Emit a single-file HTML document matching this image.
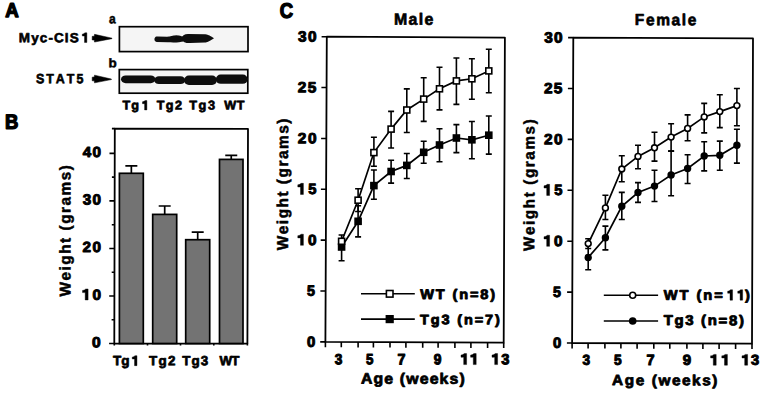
<!DOCTYPE html>
<html><head><meta charset="utf-8"><title>Figure</title>
<style>
html,body{margin:0;padding:0;background:#fff;}
body{width:762px;height:393px;overflow:hidden;}
svg{display:block;}
svg text{font-family:"Liberation Sans",sans-serif;font-weight:bold;font-kerning:none;}
</style></head>
<body>
<svg width="762" height="393" viewBox="0 0 762 393">
<rect width="762" height="393" fill="#fff"/>
<text transform="matrix(0.18632 0.0002 0 0.20058 5.336 17.000)" font-size="100.0" fill="#000" stroke="#000" stroke-width="1.4" vector-effect="non-scaling-stroke" stroke-linejoin="round">A</text>
<text transform="matrix(0.18529 0.0002 0 0.20349 5.111 128.650)" font-size="100.0" fill="#000" stroke="#000" stroke-width="1.3" vector-effect="non-scaling-stroke" stroke-linejoin="round">B</text>
<text transform="matrix(0.18507 0.0002 0 0.21045 279.791 17.844)" font-size="100.0" fill="#000" stroke="#000" stroke-width="1.3" vector-effect="non-scaling-stroke" stroke-linejoin="round">C</text>
<text transform="matrix(0.13513 0.0002 0 0.13249 18.796 42.151)" dx="0 8.09 8.09 8.09 8.09 8.09 8.09 8.09" font-size="100.0" fill="#000" stroke="#000" stroke-width="0.6" vector-effect="non-scaling-stroke" stroke-linejoin="round">Myc-CIS </text><path d="M86.86 32.84 L86.86 42.45 L84.50 42.45 L84.50 36.01 L82.32 36.01 L82.32 34.09 C83.68 34.09 84.27 33.41 84.95 32.84 Z" fill="#000" stroke="#000" stroke-width="0.4" stroke-linejoin="round"/>
<text transform="matrix(0.12474 0.0002 0 0.13559 36.041 83.168)" dx="0 15.63 15.63 15.63 15.63" font-size="100.0" fill="#000" stroke="#000" stroke-width="0.6" vector-effect="non-scaling-stroke" stroke-linejoin="round">STAT5</text>
<text transform="matrix(0.12003 0.0002 0 0.13325 108.998 23.320)" font-size="100.0" fill="#000" stroke="#000" stroke-width="0.5" vector-effect="non-scaling-stroke" stroke-linejoin="round">a</text>
<text transform="matrix(0.13495 0.0002 0 0.12391 108.560 67.129)" font-size="100.0" fill="#000" stroke="#000" stroke-width="0.5" vector-effect="non-scaling-stroke" stroke-linejoin="round">b</text>
<path d="M92.20 36.35 L94.30 36.25 L94.50 34.35 L112.00 38.15 L112.00 38.65 L94.50 42.05 L94.30 40.05 L92.20 39.95 Z" fill="#000" stroke="#000" stroke-width="0.5" stroke-linejoin="round"/>
<path d="M92.20 77.15 L94.30 77.05 L94.50 75.15 L111.40 79.05 L111.40 79.55 L94.50 82.85 L94.30 80.85 L92.20 80.75 Z" fill="#000" stroke="#000" stroke-width="0.5" stroke-linejoin="round"/>
<defs><filter id="bl" x="-5%" y="-30%" width="110%" height="160%"><feGaussianBlur stdDeviation="0.45"/></filter></defs>
<rect x="119.4" y="26.7" width="128.6" height="24.9" fill="#f5f5f5" stroke="#000" stroke-width="1.7"/>
<rect x="119.3" y="69.6" width="128.5" height="23.6" fill="#f5f5f5" stroke="#000" stroke-width="1.7"/>
<g filter="url(#bl)" fill="#0d0d0d"><path d="M156.6 36.6 C153.8 36.8 153.8 41.8 156.6 42.0 L168 42.3 C172 42.5 176 42.5 179 42.2 L183 41.4 L183 36.8 C181 36.0 179.5 35.4 176.5 35.2 C173 35.3 170 36.4 167 36.7 Z"/><path d="M181.3 38.4 C181.8 35.6 184.5 34.0 188 33.9 L205.5 34.3 C208 34.5 210.8 36.3 214.0 38.2 C210.8 40.3 208 42.1 205.5 42.6 L190 43.1 C185 43.1 181.8 41.4 181.3 38.4 Z"/></g>
<g filter="url(#bl)" fill="#0d0d0d"><rect x="121.0" y="75.4" width="34.4" height="7.8" rx="4.6" ry="3.9"/><rect x="154.2" y="76.3" width="31.0" height="7.8" rx="4.6" ry="3.9"/><rect x="184.0" y="75.5" width="33.0" height="9.4" rx="4.9" ry="4.7"/><rect x="215.8" y="74.6" width="31.9" height="9.1" rx="4.9" ry="4.5"/></g>
<text transform="matrix(0.12668 0.0002 0 0.12668 122.608 109.565)" dx="0 8.18 8.18" font-size="100.0" fill="#000" stroke="#000" stroke-width="0.7" vector-effect="non-scaling-stroke" stroke-linejoin="round">Tg </text><path d="M146.88 100.60 L146.88 109.92 L144.59 109.92 L144.59 103.67 L142.47 103.67 L142.47 101.81 C143.80 101.81 144.37 101.16 145.03 100.60 Z" fill="#000" stroke="#000" stroke-width="0.4" stroke-linejoin="round"/>
<text transform="matrix(0.12635 0.0002 0 0.12635 156.808 109.572)" dx="0 10.62 10.62" font-size="100.0" fill="#000" stroke="#000" stroke-width="0.7" vector-effect="non-scaling-stroke" stroke-linejoin="round">Tg2</text>
<text transform="matrix(0.12745 0.0002 0 0.12745 189.307 109.549)" dx="0 11.95 11.95" font-size="100.0" fill="#000" stroke="#000" stroke-width="0.7" vector-effect="non-scaling-stroke" stroke-linejoin="round">Tg3</text>
<text transform="matrix(0.12646 0.0002 0 0.12646 224.338 109.550)" dx="0 3.86" font-size="100.0" fill="#000" stroke="#000" stroke-width="0.7" vector-effect="non-scaling-stroke" stroke-linejoin="round">WT</text>
<path d="M114.80 128.60 L248.00 128.90 L247.40 343.60 L114.30 343.50 Z" fill="none" stroke="#000" stroke-width="1.8" stroke-linejoin="round"/>
<path d="M114.80 128.60 H111.9" stroke="#000" stroke-width="1.8"/>
<path d="M109.1 343.50 H114.30 M111.6 319.74 H114.36 M109.2 295.98 H114.41 M111.7 272.21 H114.47 M109.3 248.45 H114.52 M111.8 224.69 H114.58 M109.4 200.92 H114.63 M111.9 177.16 H114.69 M109.5 153.40 H114.74 M114.3 343.5 V345.6 M147.5 343.5 V345.6 M180.5 343.5 V345.6 M213.8 343.5 V345.6 M247.4 343.5 V345.6" stroke="#000" stroke-width="1.6" fill="none"/>
<text transform="matrix(0.15560 0.0002 0 0.14689 91.885 347.157)" font-size="100.0" fill="#000" stroke="#000" stroke-width="1.0" vector-effect="non-scaling-stroke" stroke-linejoin="round">0</text>
<path d="M88.10 288.98 L88.10 299.98 L85.19 299.98 L85.19 292.61 L82.50 292.61 L82.50 290.41 C84.18 290.41 84.91 289.64 85.75 288.98 Z" fill="#000" stroke="#000" stroke-width="0.4" stroke-linejoin="round"/><text transform="matrix(0.15349 0.0002 0 0.14689 92.393 299.632)" font-size="100.0" fill="#000" stroke="#000" stroke-width="1.0" vector-effect="non-scaling-stroke" stroke-linejoin="round">0</text>
<text transform="matrix(0.15277 0.0002 0 0.14689 82.470 252.107)" dx="0 9.58" font-size="100.0" fill="#000" stroke="#000" stroke-width="1.0" vector-effect="non-scaling-stroke" stroke-linejoin="round">20</text>
<text transform="matrix(0.15245 0.0002 0 0.14659 82.650 204.560)" dx="0 8.64" font-size="100.0" fill="#000" stroke="#000" stroke-width="1.0" vector-effect="non-scaling-stroke" stroke-linejoin="round">30</text>
<text transform="matrix(0.15277 0.0002 0 0.14689 82.769 157.057)" dx="0 7.63" font-size="100.0" fill="#000" stroke="#000" stroke-width="1.0" vector-effect="non-scaling-stroke" stroke-linejoin="round">40</text>
<path d="M131.35 173.30 V165.90 M125.35 165.90 H137.35" stroke="#000" stroke-width="1.7"/>
<rect x="119.40" y="173.30" width="23.90" height="170.20" fill="#737373" stroke="#000" stroke-width="1.7"/>
<path d="M164.70 214.40 V206.00 M158.70 206.00 H170.70" stroke="#000" stroke-width="1.7"/>
<rect x="152.70" y="214.40" width="24.00" height="129.10" fill="#737373" stroke="#000" stroke-width="1.7"/>
<path d="M197.70 239.70 V232.20 M191.70 232.20 H203.70" stroke="#000" stroke-width="1.7"/>
<rect x="185.70" y="239.70" width="24.00" height="103.80" fill="#737373" stroke="#000" stroke-width="1.7"/>
<path d="M231.25 159.40 V155.30 M225.25 155.30 H237.25" stroke="#000" stroke-width="1.7"/>
<rect x="219.50" y="159.40" width="23.50" height="184.10" fill="#737373" stroke="#000" stroke-width="1.7"/>
<text transform="matrix(0.0002 -0.15278 0.15590 0 70.446 296.465)" dx="0 10.16 10.16 10.16 10.16 10.16 10.16 10.16 10.16 10.16 10.16 10.16 10.16 10.16" font-size="100.0" fill="#000" stroke="#000" stroke-width="0.5" vector-effect="non-scaling-stroke" stroke-linejoin="round">Weight (grams)</text>
<text transform="matrix(0.13557 0.0002 0 0.13557 112.898 365.277)" dx="0 1.21 1.21" font-size="100.0" fill="#000" stroke="#000" stroke-width="0.7" vector-effect="non-scaling-stroke" stroke-linejoin="round">Tg </text><path d="M136.96 355.70 L136.96 365.63 L134.52 365.63 L134.52 358.98 L132.27 358.98 L132.27 356.99 C133.67 356.99 134.28 356.30 134.99 355.70 Z" fill="#000" stroke="#000" stroke-width="0.4" stroke-linejoin="round"/>
<text transform="matrix(0.13404 0.0002 0 0.13404 148.899 365.309)" dx="0 10.66 10.66" font-size="100.0" fill="#000" stroke="#000" stroke-width="0.7" vector-effect="non-scaling-stroke" stroke-linejoin="round">Tg2</text>
<text transform="matrix(0.13404 0.0002 0 0.13404 182.299 365.309)" dx="0 7.85 7.85" font-size="100.0" fill="#000" stroke="#000" stroke-width="0.7" vector-effect="non-scaling-stroke" stroke-linejoin="round">Tg3</text>
<text transform="matrix(0.13372 0.0002 0 0.13372 219.437 365.250)" dx="0 -6.23" font-size="100.0" fill="#000" stroke="#000" stroke-width="0.7" vector-effect="non-scaling-stroke" stroke-linejoin="round">WT</text>
<path d="M326.80 36.70 L504.90 37.60 L503.70 342.70 L325.40 341.90 Z" fill="none" stroke="#000" stroke-width="1.8" stroke-linejoin="round"/>
<path d="M326.80 36.70 H321.60 M320.2 341.90 H325.40 M320.4 291.03 H325.63 M320.7 240.17 H325.87 M320.9 189.30 H326.10 M321.1 138.43 H326.33 M321.4 87.57 H326.57 M325.40 341.90 V347.30 M341.30 341.97 V347.37 M358.10 342.05 V347.45 M373.40 342.12 V347.52 M390.00 342.19 V347.59 M405.90 342.26 V347.66 M422.70 342.34 V347.74 M438.10 342.41 V347.81 M454.90 342.48 V347.88 M470.90 342.55 V347.95 M487.60 342.63 V348.03 M503.70 342.70 V348.10" stroke="#000" stroke-width="1.6" fill="none"/>
<text transform="matrix(0.14929 0.0002 0 0.14830 306.910 346.705)" font-size="100.0" fill="#000" stroke="#000" stroke-width="1.0" vector-effect="non-scaling-stroke" stroke-linejoin="round">0</text>
<text transform="matrix(0.14270 0.0002 0 0.15048 307.061 295.836)" font-size="100.0" fill="#000" stroke="#000" stroke-width="1.0" vector-effect="non-scaling-stroke" stroke-linejoin="round">5</text>
<path d="M303.40 234.22 L303.40 245.32 L300.49 245.32 L300.49 237.88 L297.80 237.88 L297.80 235.66 C299.48 235.66 300.21 234.88 301.05 234.22 Z" fill="#000" stroke="#000" stroke-width="0.4" stroke-linejoin="round"/><text transform="matrix(0.15349 0.0002 0 0.14830 307.993 244.972)" font-size="100.0" fill="#000" stroke="#000" stroke-width="1.0" vector-effect="non-scaling-stroke" stroke-linejoin="round">0</text>
<path d="M303.40 183.35 L303.40 194.45 L300.49 194.45 L300.49 187.01 L297.80 187.01 L297.80 184.79 C299.48 184.79 300.21 184.02 301.05 183.35 Z" fill="#000" stroke="#000" stroke-width="0.4" stroke-linejoin="round"/><text transform="matrix(0.14672 0.0002 0 0.15048 308.149 194.103)" font-size="100.0" fill="#000" stroke="#000" stroke-width="1.0" vector-effect="non-scaling-stroke" stroke-linejoin="round">5</text>
<text transform="matrix(0.15424 0.0002 0 0.14830 297.765 143.239)" dx="0 10.45" font-size="100.0" fill="#000" stroke="#000" stroke-width="1.0" vector-effect="non-scaling-stroke" stroke-linejoin="round">20</text>
<text transform="matrix(0.15424 0.0002 0 0.14830 297.765 92.372)" dx="0 9.13" font-size="100.0" fill="#000" stroke="#000" stroke-width="1.0" vector-effect="non-scaling-stroke" stroke-linejoin="round">25</text>
<text transform="matrix(0.15392 0.0002 0 0.14800 297.947 41.484)" dx="0 9.51" font-size="100.0" fill="#000" stroke="#000" stroke-width="1.0" vector-effect="non-scaling-stroke" stroke-linejoin="round">30</text>
<text transform="matrix(0.15918 0.0002 0 0.16410 393.960 24.715)" dx="0 8.11 8.11 8.11" font-size="100.0" fill="#000" stroke="#000" stroke-width="0.65" vector-effect="non-scaling-stroke" stroke-linejoin="round">Male</text>
<text transform="matrix(0.0002 -0.15487 0.15803 0 288.001 250.265)" dx="0 9.47 9.47 9.47 9.47 9.47 9.47 9.47 9.47 9.47 9.47 9.47 9.47 9.47" font-size="100.0" fill="#000" stroke="#000" stroke-width="0.5" vector-effect="non-scaling-stroke" stroke-linejoin="round">Weight (grams)</text>
<text transform="matrix(0.15808 0.0002 0 0.15056 361.006 383.609)" dx="0 7.29 7.29 7.29 7.29 7.29 7.29 7.29 7.29 7.29 7.29" font-size="100.0" fill="#000" stroke="#000" stroke-width="0.8" vector-effect="non-scaling-stroke" stroke-linejoin="round">Age (weeks)</text>
<text transform="matrix(0.13680 0.0002 0 0.14659 334.786 364.235)" font-size="100.0" fill="#000" stroke="#000" stroke-width="1.0" vector-effect="non-scaling-stroke" stroke-linejoin="round">3</text>
<text transform="matrix(0.13265 0.0002 0 0.14905 366.092 364.254)" font-size="100.0" fill="#000" stroke="#000" stroke-width="1.0" vector-effect="non-scaling-stroke" stroke-linejoin="round">5</text>
<text transform="matrix(0.14278 0.0002 0 0.15117 397.486 364.400)" font-size="100.0" fill="#000" stroke="#000" stroke-width="1.0" vector-effect="non-scaling-stroke" stroke-linejoin="round">7</text>
<text transform="matrix(0.13832 0.0002 0 0.14689 433.720 364.257)" font-size="100.0" fill="#000" stroke="#000" stroke-width="1.0" vector-effect="non-scaling-stroke" stroke-linejoin="round">9</text>
<path d="M466.60 353.60 L466.60 364.60 L463.69 364.60 L463.69 357.23 L461.00 357.23 L461.00 355.03 C462.68 355.03 463.41 354.26 464.25 353.60 Z" fill="#000" stroke="#000" stroke-width="0.4" stroke-linejoin="round"/><path d="M476.20 353.60 L476.20 364.60 L473.29 364.60 L473.29 357.23 L470.60 357.23 L470.60 355.03 C472.28 355.03 473.01 354.26 473.85 353.60 Z" fill="#000" stroke="#000" stroke-width="0.4" stroke-linejoin="round"/>
<path d="M497.60 353.60 L497.60 364.60 L494.69 364.60 L494.69 357.23 L492.00 357.23 L492.00 355.03 C493.68 355.03 494.41 354.26 495.25 353.60 Z" fill="#000" stroke="#000" stroke-width="0.4" stroke-linejoin="round"/><text transform="matrix(0.14686 0.0002 0 0.14659 501.363 364.235)" font-size="100.0" fill="#000" stroke="#000" stroke-width="1.0" vector-effect="non-scaling-stroke" stroke-linejoin="round">3</text>
<polyline points="341.60,247.00 358.10,221.30 373.90,185.60 391.10,171.50 406.80,165.40 423.70,152.30 439.50,145.00 456.40,138.00 471.90,139.80 488.80,135.20" fill="none" stroke="#000" stroke-width="1.7"/>
<polyline points="341.60,241.30 358.10,200.20 373.90,152.60 391.10,129.10 406.80,110.00 423.70,99.10 439.50,88.80 456.40,80.90 471.90,78.80 488.80,70.90" fill="none" stroke="#000" stroke-width="1.7"/>
<path d="M341.60 247.00 V260.70 M338.60 260.70 H344.60 M358.10 221.30 V205.70 M355.10 205.70 H361.10 M358.10 221.30 V236.90 M355.10 236.90 H361.10 M373.90 185.60 V170.00 M370.90 170.00 H376.90 M373.90 185.60 V199.30 M370.90 199.30 H376.90 M391.10 171.50 V160.20 M388.10 160.20 H394.10 M391.10 171.50 V183.10 M388.10 183.10 H394.10 M406.80 165.40 V153.50 M403.80 153.50 H409.80 M406.80 165.40 V178.50 M403.80 178.50 H409.80 M423.70 152.30 V141.30 M420.70 141.30 H426.70 M423.70 152.30 V163.30 M420.70 163.30 H426.70 M439.50 145.00 V128.80 M436.50 128.80 H442.50 M439.50 145.00 V161.80 M436.50 161.80 H442.50 M456.40 138.00 V124.60 M453.40 124.60 H459.40 M456.40 138.00 V152.60 M453.40 152.60 H459.40 M471.90 139.80 V121.50 M468.90 121.50 H474.90 M471.90 139.80 V158.70 M468.90 158.70 H474.90 M488.80 135.20 V116.00 M485.80 116.00 H491.80 M488.80 135.20 V154.10 M485.80 154.10 H491.80" stroke="#000" stroke-width="1.6" fill="none"/>
<path d="M341.60 241.30 V235.00 M338.60 235.00 H344.60 M358.10 200.20 V188.70 M355.10 188.70 H361.10 M358.10 200.20 V211.50 M355.10 211.50 H361.10 M373.90 152.60 V137.30 M370.90 137.30 H376.90 M373.90 152.60 V166.30 M370.90 166.30 H376.90 M391.10 129.10 V111.40 M388.10 111.40 H394.10 M391.10 129.10 V148.00 M388.10 148.00 H394.10 M406.80 110.00 V88.90 M403.80 88.90 H409.80 M406.80 110.00 V132.50 M403.80 132.50 H409.80 M423.70 99.10 V77.70 M420.70 77.70 H426.70 M423.70 99.10 V121.40 M420.70 121.40 H426.70 M439.50 88.80 V67.20 M436.50 67.20 H442.50 M439.50 88.80 V109.90 M436.50 109.90 H442.50 M456.40 80.90 V58.00 M453.40 58.00 H459.40 M456.40 80.90 V104.40 M453.40 104.40 H459.40 M471.90 78.80 V58.70 M468.90 58.70 H474.90 M471.90 78.80 V99.20 M468.90 99.20 H474.90 M488.80 70.90 V49.30 M485.80 49.30 H491.80 M488.80 70.90 V92.70 M485.80 92.70 H491.80" stroke="#000" stroke-width="1.6" fill="none"/>
<rect x="338.60" y="244.00" width="6.0" height="6.0" fill="#000" stroke="#000" stroke-width="1.6"/>
<rect x="355.10" y="218.30" width="6.0" height="6.0" fill="#000" stroke="#000" stroke-width="1.6"/>
<rect x="370.90" y="182.60" width="6.0" height="6.0" fill="#000" stroke="#000" stroke-width="1.6"/>
<rect x="388.10" y="168.50" width="6.0" height="6.0" fill="#000" stroke="#000" stroke-width="1.6"/>
<rect x="403.80" y="162.40" width="6.0" height="6.0" fill="#000" stroke="#000" stroke-width="1.6"/>
<rect x="420.70" y="149.30" width="6.0" height="6.0" fill="#000" stroke="#000" stroke-width="1.6"/>
<rect x="436.50" y="142.00" width="6.0" height="6.0" fill="#000" stroke="#000" stroke-width="1.6"/>
<rect x="453.40" y="135.00" width="6.0" height="6.0" fill="#000" stroke="#000" stroke-width="1.6"/>
<rect x="468.90" y="136.80" width="6.0" height="6.0" fill="#000" stroke="#000" stroke-width="1.6"/>
<rect x="485.80" y="132.20" width="6.0" height="6.0" fill="#000" stroke="#000" stroke-width="1.6"/>
<rect x="338.60" y="238.30" width="6.0" height="6.0" fill="#fff" stroke="#000" stroke-width="1.6"/>
<rect x="355.10" y="197.20" width="6.0" height="6.0" fill="#fff" stroke="#000" stroke-width="1.6"/>
<rect x="370.90" y="149.60" width="6.0" height="6.0" fill="#fff" stroke="#000" stroke-width="1.6"/>
<rect x="388.10" y="126.10" width="6.0" height="6.0" fill="#fff" stroke="#000" stroke-width="1.6"/>
<rect x="403.80" y="107.00" width="6.0" height="6.0" fill="#fff" stroke="#000" stroke-width="1.6"/>
<rect x="420.70" y="96.10" width="6.0" height="6.0" fill="#fff" stroke="#000" stroke-width="1.6"/>
<rect x="436.50" y="85.80" width="6.0" height="6.0" fill="#fff" stroke="#000" stroke-width="1.6"/>
<rect x="453.40" y="77.90" width="6.0" height="6.0" fill="#fff" stroke="#000" stroke-width="1.6"/>
<rect x="468.90" y="75.80" width="6.0" height="6.0" fill="#fff" stroke="#000" stroke-width="1.6"/>
<rect x="485.80" y="67.90" width="6.0" height="6.0" fill="#fff" stroke="#000" stroke-width="1.6"/>
<path d="M361.0 293.8 H414.8 M361.0 319.1 H414.8" stroke="#000" stroke-width="1.6"/>
<rect x="386.4" y="290.5" width="6.6" height="6.6" fill="#fff" stroke="#000" stroke-width="1.6"/>
<rect x="386.4" y="315.8" width="6.6" height="6.6" fill="#000" stroke="#000" stroke-width="1.6"/>
<text transform="matrix(0.14556 0.0002 0 0.13732 420.136 299.000)" dx="0 12.94 12.94 12.94 12.94 12.94 12.94 12.94" font-size="100.0" fill="#000" stroke="#000" stroke-width="0.9" vector-effect="non-scaling-stroke" stroke-linejoin="round">WT (n=8)</text>
<text transform="matrix(0.14488 0.0002 0 0.13668 419.987 324.154)" dx="0 12.93 12.93 12.93 12.93 12.93 12.93 12.93 12.93" font-size="100.0" fill="#000" stroke="#000" stroke-width="0.9" vector-effect="non-scaling-stroke" stroke-linejoin="round">Tg3 (n=7)</text>
<path d="M573.30 37.60 L753.00 38.40 L752.00 343.70 L572.10 343.00 Z" fill="none" stroke="#000" stroke-width="1.8" stroke-linejoin="round"/>
<path d="M573.30 37.60 H568.10 M566.9 343.00 H572.10 M567.1 292.10 H572.30 M567.3 241.20 H572.50 M567.5 190.30 H572.70 M567.7 139.40 H572.90 M567.9 88.50 H573.10 M572.10 343.00 V348.40 M588.10 343.06 V348.46 M604.90 343.13 V348.53 M620.90 343.19 V348.59 M637.10 343.25 V348.65 M653.80 343.32 V348.72 M669.80 343.38 V348.78 M686.90 343.45 V348.85 M702.90 343.51 V348.91 M719.10 343.57 V348.97 M735.60 343.64 V349.04 M752.00 343.70 V349.10" stroke="#000" stroke-width="1.6" fill="none"/>
<text transform="matrix(0.14929 0.0002 0 0.14830 552.910 347.805)" font-size="100.0" fill="#000" stroke="#000" stroke-width="1.0" vector-effect="non-scaling-stroke" stroke-linejoin="round">0</text>
<text transform="matrix(0.14270 0.0002 0 0.15048 553.061 296.903)" font-size="100.0" fill="#000" stroke="#000" stroke-width="1.0" vector-effect="non-scaling-stroke" stroke-linejoin="round">5</text>
<path d="M549.60 235.25 L549.60 246.35 L546.69 246.35 L546.69 238.91 L544.00 238.91 L544.00 236.69 C545.68 236.69 546.41 235.92 547.25 235.25 Z" fill="#000" stroke="#000" stroke-width="0.4" stroke-linejoin="round"/><text transform="matrix(0.15349 0.0002 0 0.14830 553.993 246.005)" font-size="100.0" fill="#000" stroke="#000" stroke-width="1.0" vector-effect="non-scaling-stroke" stroke-linejoin="round">0</text>
<path d="M549.60 184.35 L549.60 195.45 L546.69 195.45 L546.69 188.01 L544.00 188.01 L544.00 185.79 C545.68 185.79 546.41 185.02 547.25 184.35 Z" fill="#000" stroke="#000" stroke-width="0.4" stroke-linejoin="round"/><text transform="matrix(0.14672 0.0002 0 0.15048 554.149 195.103)" font-size="100.0" fill="#000" stroke="#000" stroke-width="1.0" vector-effect="non-scaling-stroke" stroke-linejoin="round">5</text>
<text transform="matrix(0.15424 0.0002 0 0.14830 543.965 144.205)" dx="0 9.15" font-size="100.0" fill="#000" stroke="#000" stroke-width="1.0" vector-effect="non-scaling-stroke" stroke-linejoin="round">20</text>
<text transform="matrix(0.15424 0.0002 0 0.14830 543.965 93.305)" dx="0 7.83" font-size="100.0" fill="#000" stroke="#000" stroke-width="1.0" vector-effect="non-scaling-stroke" stroke-linejoin="round">25</text>
<text transform="matrix(0.15392 0.0002 0 0.14800 544.147 42.384)" dx="0 8.21" font-size="100.0" fill="#000" stroke="#000" stroke-width="1.0" vector-effect="non-scaling-stroke" stroke-linejoin="round">30</text>
<text transform="matrix(0.15500 0.0002 0 0.15980 634.788 25.119)" dx="0 10.45 10.45 10.45 10.45 10.45" font-size="100.0" fill="#000" stroke="#000" stroke-width="0.65" vector-effect="non-scaling-stroke" stroke-linejoin="round">Female</text>
<text transform="matrix(0.0002 -0.15173 0.15483 0 534.369 251.065)" dx="0 10.82 10.82 10.82 10.82 10.82 10.82 10.82 10.82 10.82 10.82 10.82 10.82 10.82" font-size="100.0" fill="#000" stroke="#000" stroke-width="0.5" vector-effect="non-scaling-stroke" stroke-linejoin="round">Weight (grams)</text>
<text transform="matrix(0.15360 0.0002 0 0.14629 612.117 385.100)" dx="0 10.23 10.23 10.23 10.23 10.23 10.23 10.23 10.23 10.23 10.23" font-size="100.0" fill="#000" stroke="#000" stroke-width="0.8" vector-effect="non-scaling-stroke" stroke-linejoin="round">Age (weeks)</text>
<text transform="matrix(0.13680 0.0002 0 0.14377 582.386 364.839)" font-size="100.0" fill="#000" stroke="#000" stroke-width="1.0" vector-effect="non-scaling-stroke" stroke-linejoin="round">3</text>
<text transform="matrix(0.13667 0.0002 0 0.14618 613.980 364.857)" font-size="100.0" fill="#000" stroke="#000" stroke-width="1.0" vector-effect="non-scaling-stroke" stroke-linejoin="round">5</text>
<text transform="matrix(0.14492 0.0002 0 0.14826 646.577 365.000)" font-size="100.0" fill="#000" stroke="#000" stroke-width="1.0" vector-effect="non-scaling-stroke" stroke-linejoin="round">7</text>
<text transform="matrix(0.15071 0.0002 0 0.14407 682.778 364.859)" font-size="100.0" fill="#000" stroke="#000" stroke-width="1.0" vector-effect="non-scaling-stroke" stroke-linejoin="round">9</text>
<path d="M716.20 354.40 L716.20 365.20 L713.29 365.20 L713.29 357.96 L710.60 357.96 L710.60 355.80 C712.28 355.80 713.01 355.05 713.85 354.40 Z" fill="#000" stroke="#000" stroke-width="0.4" stroke-linejoin="round"/><path d="M727.40 354.40 L727.40 365.20 L724.49 365.20 L724.49 357.96 L721.80 357.96 L721.80 355.80 C723.48 355.80 724.21 355.05 725.05 354.40 Z" fill="#000" stroke="#000" stroke-width="0.4" stroke-linejoin="round"/>
<path d="M747.60 354.40 L747.60 365.20 L744.69 365.20 L744.69 357.96 L742.00 357.96 L742.00 355.80 C743.68 355.80 744.41 355.05 745.25 354.40 Z" fill="#000" stroke="#000" stroke-width="0.4" stroke-linejoin="round"/><text transform="matrix(0.14686 0.0002 0 0.14377 751.063 364.839)" font-size="100.0" fill="#000" stroke="#000" stroke-width="1.0" vector-effect="non-scaling-stroke" stroke-linejoin="round">3</text>
<polyline points="588.20,257.50 605.40,237.70 621.80,206.30 638.00,192.50 654.50,186.10 671.10,175.00 687.60,168.50 704.20,156.00 719.80,155.30 736.90,145.30" fill="none" stroke="#000" stroke-width="1.7"/>
<polyline points="588.20,243.60 605.40,207.90 621.80,169.00 638.00,156.40 654.50,147.80 671.10,137.10 687.60,128.40 704.20,116.90 719.80,111.60 736.90,105.60" fill="none" stroke="#000" stroke-width="1.7"/>
<path d="M588.20 257.50 V245.00 M585.20 245.00 H591.20 M588.20 257.50 V269.80 M585.20 269.80 H591.20 M605.40 237.70 V226.10 M602.40 226.10 H608.40 M605.40 237.70 V249.90 M602.40 249.90 H608.40 M621.80 206.30 V192.40 M618.80 192.40 H624.80 M621.80 206.30 V219.50 M618.80 219.50 H624.80 M638.00 192.50 V182.60 M635.00 182.60 H641.00 M638.00 192.50 V202.40 M635.00 202.40 H641.00 M654.50 186.10 V170.30 M651.50 170.30 H657.50 M654.50 186.10 V201.50 M651.50 201.50 H657.50 M671.10 175.00 V151.10 M668.10 151.10 H674.10 M671.10 175.00 V195.80 M668.10 195.80 H674.10 M687.60 168.50 V154.80 M684.60 154.80 H690.60 M687.60 168.50 V183.50 M684.60 183.50 H690.60 M704.20 156.00 V141.80 M701.20 141.80 H707.20 M704.20 156.00 V170.90 M701.20 170.90 H707.20 M719.80 155.30 V141.10 M716.80 141.10 H722.80 M719.80 155.30 V170.20 M716.80 170.20 H722.80 M736.90 145.30 V129.30 M733.90 129.30 H739.90 M736.90 145.30 V163.10 M733.90 163.10 H739.90" stroke="#000" stroke-width="1.6" fill="none"/>
<path d="M588.20 243.60 V238.70 M585.20 238.70 H591.20 M588.20 243.60 V248.50 M585.20 248.50 H591.20 M605.40 207.90 V195.30 M602.40 195.30 H608.40 M605.40 207.90 V219.50 M602.40 219.50 H608.40 M621.80 169.00 V155.70 M618.80 155.70 H624.80 M621.80 169.00 V181.70 M618.80 181.70 H624.80 M638.00 156.40 V145.20 M635.00 145.20 H641.00 M638.00 156.40 V168.70 M635.00 168.70 H641.00 M654.50 147.80 V132.30 M651.50 132.30 H657.50 M654.50 147.80 V161.10 M651.50 161.10 H657.50 M671.10 137.10 V123.70 M668.10 123.70 H674.10 M671.10 137.10 V151.10 M668.10 151.10 H674.10 M687.60 128.40 V114.90 M684.60 114.90 H690.60 M687.60 128.40 V140.70 M684.60 140.70 H690.60 M704.20 116.90 V103.40 M701.20 103.40 H707.20 M704.20 116.90 V132.90 M701.20 132.90 H707.20 M719.80 111.60 V94.80 M716.80 94.80 H722.80 M719.80 111.60 V127.60 M716.80 127.60 H722.80 M736.90 105.60 V88.50 M733.90 88.50 H739.90 M736.90 105.60 V125.80 M733.90 125.80 H739.90" stroke="#000" stroke-width="1.6" fill="none"/>
<circle cx="588.20" cy="257.50" r="2.9" fill="#000" stroke="#000" stroke-width="1.6"/>
<circle cx="605.40" cy="237.70" r="2.9" fill="#000" stroke="#000" stroke-width="1.6"/>
<circle cx="621.80" cy="206.30" r="2.9" fill="#000" stroke="#000" stroke-width="1.6"/>
<circle cx="638.00" cy="192.50" r="2.9" fill="#000" stroke="#000" stroke-width="1.6"/>
<circle cx="654.50" cy="186.10" r="2.9" fill="#000" stroke="#000" stroke-width="1.6"/>
<circle cx="671.10" cy="175.00" r="2.9" fill="#000" stroke="#000" stroke-width="1.6"/>
<circle cx="687.60" cy="168.50" r="2.9" fill="#000" stroke="#000" stroke-width="1.6"/>
<circle cx="704.20" cy="156.00" r="2.9" fill="#000" stroke="#000" stroke-width="1.6"/>
<circle cx="719.80" cy="155.30" r="2.9" fill="#000" stroke="#000" stroke-width="1.6"/>
<circle cx="736.90" cy="145.30" r="2.9" fill="#000" stroke="#000" stroke-width="1.6"/>
<circle cx="588.20" cy="243.60" r="2.9" fill="#fff" stroke="#000" stroke-width="1.6"/>
<circle cx="605.40" cy="207.90" r="2.9" fill="#fff" stroke="#000" stroke-width="1.6"/>
<circle cx="621.80" cy="169.00" r="2.9" fill="#fff" stroke="#000" stroke-width="1.6"/>
<circle cx="638.00" cy="156.40" r="2.9" fill="#fff" stroke="#000" stroke-width="1.6"/>
<circle cx="654.50" cy="147.80" r="2.9" fill="#fff" stroke="#000" stroke-width="1.6"/>
<circle cx="671.10" cy="137.10" r="2.9" fill="#fff" stroke="#000" stroke-width="1.6"/>
<circle cx="687.60" cy="128.40" r="2.9" fill="#fff" stroke="#000" stroke-width="1.6"/>
<circle cx="704.20" cy="116.90" r="2.9" fill="#fff" stroke="#000" stroke-width="1.6"/>
<circle cx="719.80" cy="111.60" r="2.9" fill="#fff" stroke="#000" stroke-width="1.6"/>
<circle cx="736.90" cy="105.60" r="2.9" fill="#fff" stroke="#000" stroke-width="1.6"/>
<path d="M603.8 295.2 H658.1 M603.8 321.0 H658.1" stroke="#000" stroke-width="1.6"/>
<circle cx="632.7" cy="295.2" r="3.0" fill="#fff" stroke="#000" stroke-width="1.6"/>
<circle cx="632.7" cy="321.0" r="3.0" fill="#000" stroke="#000" stroke-width="1.6"/>
<text transform="matrix(0.14670 0.0002 0 0.13839 663.836 299.678)" dx="0 13.16 13.16 13.16 13.16 13.16 13.16 13.16 13.16" font-size="100.0" fill="#000" stroke="#000" stroke-width="0.9" vector-effect="non-scaling-stroke" stroke-linejoin="round">WT (n=  )</text><path d="M732.54 289.81 L732.54 300.13 L730.01 300.13 L730.01 293.21 L727.67 293.21 L727.67 291.15 C729.13 291.15 729.76 290.43 730.50 289.81 Z" fill="#000" stroke="#000" stroke-width="0.4" stroke-linejoin="round"/><path d="M742.63 289.81 L742.63 300.13 L740.10 300.13 L740.10 293.21 L737.76 293.21 L737.76 291.15 C739.22 291.15 739.85 290.43 740.58 289.81 Z" fill="#000" stroke="#000" stroke-width="0.4" stroke-linejoin="round"/>
<text transform="matrix(0.14940 0.0002 0 0.14095 663.682 325.063)" dx="0 11.20 11.20 11.20 11.20 11.20 11.20 11.20 11.20" font-size="100.0" fill="#000" stroke="#000" stroke-width="0.9" vector-effect="non-scaling-stroke" stroke-linejoin="round">Tg3 (n=8)</text>
</svg>
</body></html>
